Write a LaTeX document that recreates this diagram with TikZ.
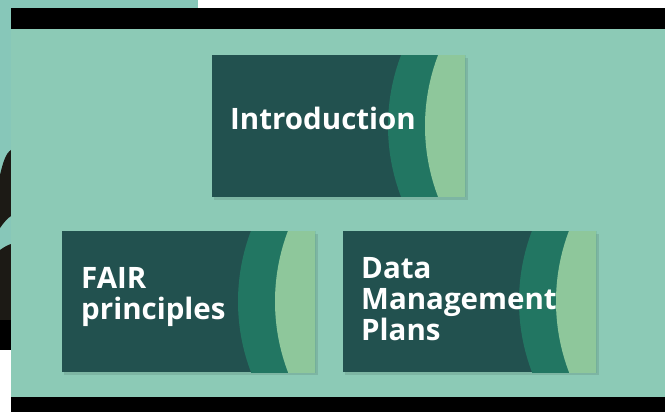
\documentclass[tikz,border=0pt]{standalone}
\usepackage{fontspec}
\setmainfont{Open Sans}
\definecolor{panel}{HTML}{8CCAB6}
\definecolor{strip}{HTML}{87C7B9}
\definecolor{carddark}{HTML}{22514F}
\definecolor{cardmid}{HTML}{227662}
\definecolor{cardlight}{HTML}{8EC79B}
\definecolor{blobdark}{HTML}{1C1A15}
\tikzset{
  card/.style={rectangle, fill=carddark, minimum width=253pt, minimum height=141pt, inner sep=0pt, outer sep=0pt},
  cardtext/.style={text=white, font=\fontsize{29.5}{31}\selectfont\bfseries, align=left, inner sep=0pt, anchor=north west},
  shadow/.style={fill=black, opacity=0.10}
}
\newcommand{\cardarcs}[1]{%
  \begin{scope}
    \clip (#1.south west) rectangle (#1.north east);
    \fill[cardmid] ([xshift=374pt]#1.west) circle[radius=198pt];
    \fill[cardlight] ([xshift=411pt]#1.west) circle[radius=198pt];
  \end{scope}}
\begin{document}
\begin{tikzpicture}[x=1pt,y=-1pt]
\useasboundingbox (0,0) rectangle (665,412);
% background pieces
\fill[white] (0,0) rectangle (665,412);
\fill[strip] (0,0) rectangle (198,8);
\fill[strip] (0,8) rectangle (11,350);
\fill[blobdark] (11,150) .. controls (6,153) and (3,162) .. (0,175) -- (0,228) .. controls (4,222) and (8,218) .. (11,216) -- cycle;
\fill[blobdark] (0,250) .. controls (4,247) and (8,245) .. (11,244) -- (11,320) -- (0,320) -- cycle;
\fill[black] (0,320) rectangle (11,350);
\fill[black] (11,8) rectangle (665,29);
\fill[panel] (11,29) rectangle (665,397);
\fill[black] (11,397) rectangle (665,412);
% shadows
\fill[shadow] (214,58) rectangle (468,200);
\fill[shadow] (64,234) rectangle (318,375);
\fill[shadow] (345,234) rectangle (599,375);
% cards
\node[card] (intro) at (338.5,126) {};
\node[card] (fair) at (188.5,301.5) {};
\node[card] (dmp) at (469.5,301.5) {};
\cardarcs{intro}
\cardarcs{fair}
\cardarcs{dmp}
% texts
\node[cardtext] (tintro) at (230,107) {Introduction};
\node[cardtext] (tfair) at (81,267) {FAIR\\principles};
\node[cardtext] (tdmp) at (361,257) {Data\\Management\\Plans};
\end{tikzpicture}
\end{document}
